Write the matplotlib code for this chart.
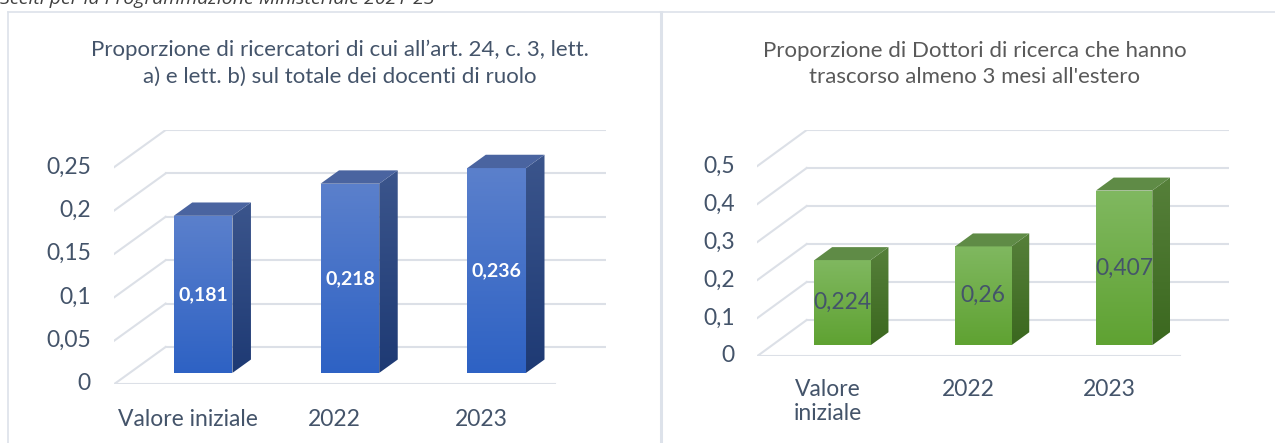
import matplotlib
matplotlib.use("Agg")
import matplotlib.pyplot as plt
import numpy as np
from matplotlib.patches import Polygon
from matplotlib.colors import LinearSegmentedColormap

plt.rcParams["font.family"] = ["Lato", "DejaVu Sans"]

# ---- data ----
categories_left = ["Valore iniziale", "2022", "2023"]
values_left = [0.181, 0.218, 0.236]
labels_left = ["0,181", "0,218", "0,236"]
yticks_left = [0, 0.05, 0.1, 0.15, 0.2, 0.25]
yticklabels_left = ["0", "0,05", "0,1", "0,15", "0,2", "0,25"]
title_left = "Proporzione di ricercatori di cui all\u2019art. 24, c. 3, lett.\na) e lett. b) sul totale dei docenti di ruolo"

categories_right = ["Valore\niniziale", "2022", "2023"]
values_right = [0.224, 0.26, 0.407]
labels_right = ["0,224", "0,26", "0,407"]
yticks_right = [0, 0.1, 0.2, 0.3, 0.4, 0.5]
yticklabels_right = ["0", "0,1", "0,2", "0,3", "0,4", "0,5"]
title_right = "Proporzione di Dottori di ricerca che hanno\ntrascorso almeno 3 mesi all'estero"

header = "Scelti per la Programmazione Ministeriale 2021-23"

W, H = 1275, 443
GRID = "#DCE0E7"
TEXT = "#44546A"

BLUE = dict(front=("#5B80CC", "#2E62C4"), side=("#3B558C", "#1E3A74"), top="#4A64A0")
GREEN = dict(front=("#80B860", "#5FA232"), side=("#56803A", "#3B681F"), top="#5F8B46")


def gradient_patch(ax, poly_pts, c_top, c_bot):
    poly = Polygon(poly_pts, closed=True, facecolor="none", edgecolor="none")
    ax.add_patch(poly)
    xs = [p[0] for p in poly_pts]
    ys = [p[1] for p in poly_pts]
    cmap = LinearSegmentedColormap.from_list("g", [c_bot, c_top])
    grad = np.linspace(0, 1, 128).reshape(-1, 1)
    im = ax.imshow(grad, cmap=cmap, origin="lower", aspect="auto",
                   extent=(min(xs), max(xs), min(ys), max(ys)), zorder=3,
                   interpolation="bilinear")
    im.set_clip_path(poly)


def draw_panel(ax, values, labels, cats, yticks, yticklabels, ymax, dy, colors,
               label_color, label_bold, label_size):
    dx = 0.35          # depth shift in category units
    z0, z1 = 0.3, 0.66  # bar depth range
    half = 0.2
    ax.set_xlim(-0.5, 2.5 + dx)
    ax.set_ylim(0, ymax)
    ax.axis("off")

    # floor + grid (back wall lines and left diagonals)
    ax.plot([-0.5, 2.5], [0, 0], color=GRID, lw=1.5, zorder=1)
    for v in yticks:
        ax.plot([-0.5 + dx, 2.5 + dx], [v + dy, v + dy], color=GRID, lw=1.5, zorder=1)
        ax.plot([-0.5, -0.5 + dx], [v, v + dy], color=GRID, lw=1.5, zorder=1)
    for v, t in zip(yticks, yticklabels):
        ax.text(-0.66, v, t, ha="right", va="center", fontsize=16.5, color=TEXT)
    for i, c in enumerate(cats):
        ax.text(i, -0.1 * ymax, c, ha="center", va="top",
                fontsize=16.5, color=TEXT, linespacing=1.2)

    for i, v in enumerate(values):
        xl, xr = i - half + z0 * dx, i + half + z0 * dx
        yb, yt = z0 * dy, v + z0 * dy
        sx, sy = (z1 - z0) * dx, (z1 - z0) * dy
        front = [(xl, yb), (xr, yb), (xr, yt), (xl, yt)]
        side = [(xr, yb), (xr + sx, yb + sy), (xr + sx, yt + sy), (xr, yt)]
        top = [(xl, yt), (xr, yt), (xr + sx, yt + sy), (xl + sx, yt + sy)]
        gradient_patch(ax, front, *colors["front"])
        gradient_patch(ax, side, *colors["side"])
        ax.add_patch(Polygon(top, closed=True, facecolor=colors["top"],
                             edgecolor="none", zorder=3))
        ax.text((xl + xr) / 2, (yb + yt) / 2, labels[i], ha="center", va="center",
                fontsize=label_size, color=label_color,
                fontweight="bold" if label_bold else "normal", zorder=5)


fig = plt.figure(figsize=(W / 100, H / 100), dpi=100)

# panel borders
fig.add_artist(plt.Line2D([8 / W, 1], [1 - 12 / H] * 2, color="#DDE2EA", lw=1.2))
fig.add_artist(plt.Line2D([8 / W] * 2, [0, 1 - 12 / H], color="#DDE2EA", lw=1.2))
fig.add_artist(plt.Line2D([661 / W] * 2, [0, 1 - 12 / H], color="#DDE2EA", lw=2.2))

fig.text(0, 1 - 4 / H, header, ha="left", va="baseline", fontsize=14,
         style="italic", color="#404040", family=["Open Sans", "DejaVu Sans"])

# left panel
axl = fig.add_axes([114.3 / W, (H - 384) / H, 491.7 / W, 254 / H])
draw_panel(axl, values_left, labels_left, categories_left, yticks_left,
           yticklabels_left, 0.25 + 0.0427, 0.0427, BLUE, "white", True, 14)
fig.text(340 / W, 1 - 63 / H, title_left, ha="center", va="center",
         fontsize=16, color=TEXT, linespacing=1.4)

# right panel
axr = fig.add_axes([757.4 / W, (H - 356) / H, 471.6 / W, 226 / H])
draw_panel(axr, values_right, labels_right, categories_right, yticks_right,
           yticklabels_right, 0.5 + 0.0947, 0.0947, GREEN, TEXT, False, 16.5)
fig.text(975 / W, 1 - 64 / H, title_right, ha="center", va="center",
         fontsize=16, color="#595959", linespacing=1.4)

fig.savefig("out.png", dpi=100)
